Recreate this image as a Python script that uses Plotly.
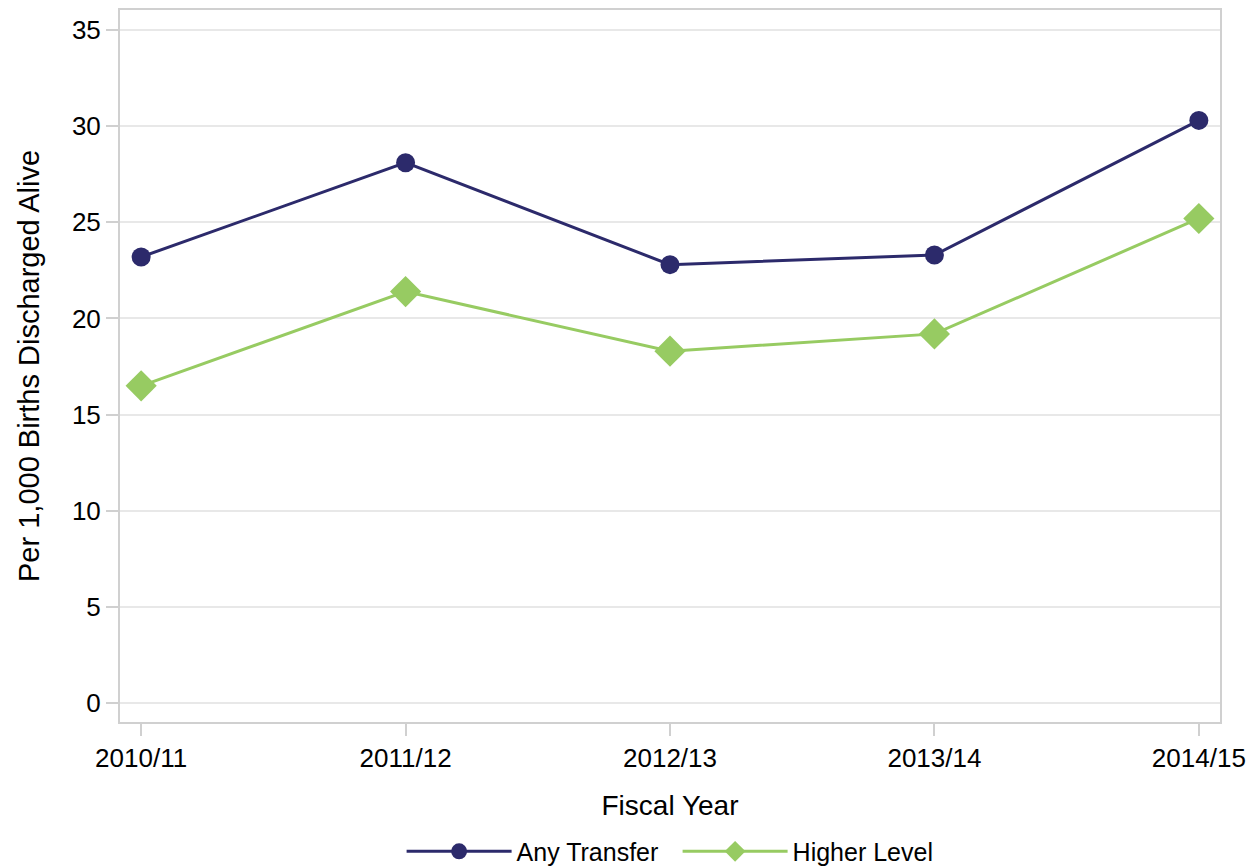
import plotly.graph_objects as go

years = ["2010/11", "2011/12", "2012/13", "2013/14", "2014/15"]
any_transfer = [23.2, 28.1, 22.8, 23.3, 30.3]
higher_level = [16.5, 21.4, 18.3, 19.2, 25.2]

navy = "#2c2a6b"
green = "#97cb62"
font = "Liberation Sans, Arial, sans-serif"

fig = go.Figure()
fig.add_trace(go.Scatter(x=list(range(len(years))), y=any_transfer, name="Any Transfer",
                         mode="lines+markers",
                         line=dict(color=navy, width=3),
                         marker=dict(symbol="circle", size=19, color=navy)))
fig.add_trace(go.Scatter(x=list(range(len(years))), y=higher_level, name="Higher Level",
                         mode="lines+markers",
                         line=dict(color=green, width=3),
                         marker=dict(symbol="diamond", size=24, color=green)))

fig.update_layout(
    width=1256, height=867,
    margin=dict(l=112, r=44, t=0, b=153),
    paper_bgcolor="white", plot_bgcolor="white",
    font=dict(family=font, size=22, color="black"),
    showlegend=True,
    legend=dict(orientation="h", x=0.256, xanchor="left", y=-0.182, yanchor="middle",
                font=dict(size=25), itemwidth=105,
                entrywidth=156, entrywidthmode="pixels"),
)
fig.update_xaxes(
    range=[-0.08, 4.08], tickvals=list(range(len(years))), ticktext=years,
    showgrid=False, zeroline=False,
    showline=True, linecolor="#d0d0d0", linewidth=2, mirror=True,
    ticks="outside", ticklen=12, tickcolor="#d0d0d0", tickwidth=2,
    tickfont=dict(size=26),
    title=dict(text="Fiscal Year", font=dict(size=28), standoff=23),
)
fig.update_yaxes(
    range=[-0.98, 36.04], tickvals=[0, 5, 10, 15, 20, 25, 30, 35],
    showgrid=True, gridcolor="#e8e8e8", gridwidth=2, zeroline=False,
    showline=True, linecolor="#d0d0d0", linewidth=2, mirror=True,
    ticks="outside", ticklen=12, tickcolor="#d0d0d0", tickwidth=2,
    tickfont=dict(size=26),
    title=dict(text="Per 1,000 Births Discharged Alive", font=dict(size=29), standoff=24),
)

fig.write_html("out.html")
